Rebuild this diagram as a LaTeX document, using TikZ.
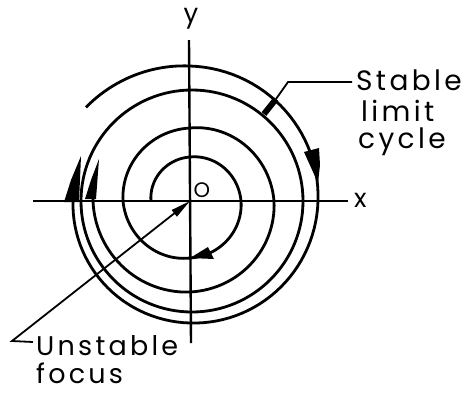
\documentclass[tikz,border=0pt]{standalone}
\usepackage{fontspec}
\setmainfont{Poppins}[LetterSpace=12]
\usetikzlibrary{arrows.meta}
\begin{document}
\begin{tikzpicture}[x=1pt,y=-1pt,
  curve/.style={line width=2.8pt},
  axis/.style={line width=2.4pt},
  leader/.style={line width=1.8pt},
  head/.style={fill=black},
  lbl/.style={inner sep=0pt,text height=0.72em,text depth=0.2em,font=\fontsize{28}{32}\selectfont},
  lbls/.style={lbl,font=\fontsize{27}{30}\selectfont},
  axlbl/.style={inner sep=0pt,font=\fontsize{26}{30}\selectfont}]
\useasboundingbox (0,0) rectangle (467,392);
% axes
\coordinate (xl) at (33,201);
\coordinate (xr) at (348,201);
\coordinate (yt) at (189,40);
\coordinate (yb) at (191,343);
\coordinate (O) at (190,201);
\draw[axis] (xl) -- (xr);
\draw[axis] (yt) -- (yb);
\node[axlbl] (ylab) at (191,19) {y};
\node[axlbl,anchor=west] (xlab) at (354,200) {x};
\node[inner sep=0pt,font=\fontsize{21}{24}\selectfont] (olab) at (202,190) {O};
% inner spiral (unstable focus)
\draw[curve]
  plot[domain=180:90,samples=30] ({190+(39+5*(180-\x)/90)*cos(\x)},{201-(39+5*(180-\x)/90)*sin(\x)})
  -- plot[domain=90:0,samples=30] ({190+(44+7*(90-\x)/90)*cos(\x)},{201-(44+7*(90-\x)/90)*sin(\x)})
  -- plot[domain=0:-90,samples=30] ({190+(51+6*(-\x)/90)*cos(\x)},{201-(51+6*(-\x)/90)*sin(\x)})
  -- plot[domain=-90:-180,samples=30] ({190+(57+10*(-90-\x)/90)*cos(\x)},{201-(57+10*(-90-\x)/90)*sin(\x)})
  -- plot[domain=180:90,samples=30] ({190+(67+6*(180-\x)/90)*cos(\x)},{201-(67+6*(180-\x)/90)*sin(\x)})
  -- plot[domain=90:0,samples=30] ({190+(73+11*(90-\x)/90)*cos(\x)},{201-(73+11*(90-\x)/90)*sin(\x)})
  -- plot[domain=0:-90,samples=30] ({190+(84+7*(-\x)/90)*cos(\x)},{201-(84+7*(-\x)/90)*sin(\x)})
  -- plot[domain=-90:-180,samples=30] ({190+(91+6*(-90-\x)/90)*cos(\x)},{201-(91+6*(-90-\x)/90)*sin(\x)})
  -- plot[domain=180:170,samples=5] ({190+(97+1*(180-\x)/10)*cos(\x)},{201-(97+1*(180-\x)/10)*sin(\x)});
% stable limit cycle
\draw[curve] (192,201) circle[radius=111];
% outer spiral
\draw[curve]
  plot[domain=138:90,samples=25] ({190+(140-5*(138-\x)/48)*cos(\x)},{201-(140-5*(138-\x)/48)*sin(\x)})
  -- plot[domain=90:0,samples=30] ({190+(135-7*(90-\x)/90)*cos(\x)},{201-(135-7*(90-\x)/90)*sin(\x)})
  -- plot[domain=0:-90,samples=30] ({190+(128-6*(-\x)/90)*cos(\x)},{201-(128-6*(-\x)/90)*sin(\x)})
  -- plot[domain=-90:-180,samples=30] ({190+(122-5*(-90-\x)/90)*cos(\x)},{201-(122-5*(-90-\x)/90)*sin(\x)})
  -- plot[domain=180:172,samples=5] ({190+117*cos(\x)},{201-117*sin(\x)});
% arrowheads
\fill[head] (64,202) -- (71,180) -- (81,156) -- (79,202) -- cycle;
\fill[head] (85,199) -- (91,180) -- (99,159) -- (96,199) -- cycle;
\fill[head] (304,152) -- (319,148) -- (320,165) -- (318,183) -- cycle;
\fill[head] (190,258) -- (208,247) -- (214,259) -- cycle;
% leaders
\node[lbl,anchor=base west] (stab) at (356,90) {Stable};
\node[lbl,anchor=base west] (lim) at (361,121) {limit};
\node[lbl,anchor=base west] (cyc) at (358,148) {cycle};
\coordinate (s1) at (352,82);
\coordinate (s2) at (288,82);
\coordinate (s3) at (276,99);
\coordinate (s4) at (264,114);
\draw[leader] (s1) -- (s2) -- (s3);
\draw[line width=6pt] (s3) -- (s4);
\node[lbls,anchor=base west] (unst) at (36,355) {Unstable};
\node[lbls,anchor=base west] (foc) at (36,383) {focus};
\coordinate (u1) at (33,342);
\coordinate (u2) at (12,341);
\draw[leader,-{Triangle[length=20pt,width=8pt]}] (u1) -- (u2) -- (O);
\end{tikzpicture}
\end{document}
